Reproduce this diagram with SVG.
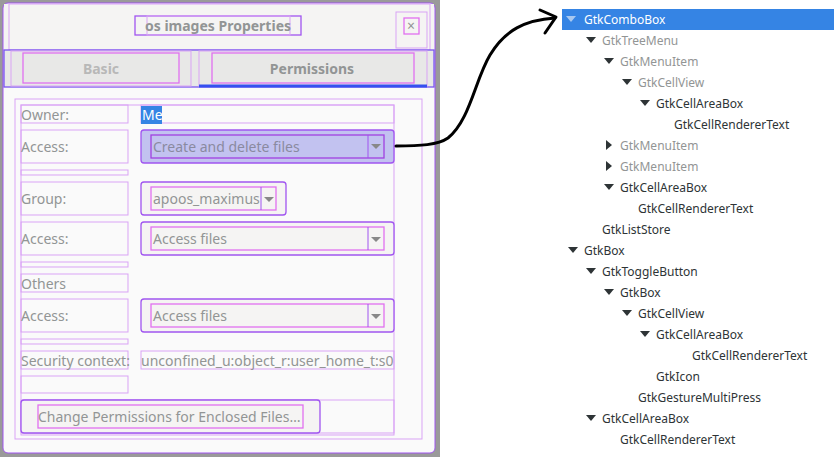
<svg xmlns="http://www.w3.org/2000/svg" width="834" height="457" viewBox="0 0 834 457">
<style>
text{font-family:"Noto Sans","DejaVu Sans",sans-serif;font-size:14px;fill:#929595}
.t{fill:#2e3436;font-size:12px}
.g{fill:#929595;font-size:12px}
.lb{fill:none;stroke:#d9a3f5;stroke-width:1}
.pb{fill:none;stroke:#a055f0;stroke-width:1.3}
.mg{fill:none;stroke:#e070f0;stroke-width:1.3}
.tri{fill:#2e3436}
</style>
<rect width="834" height="457" fill="#ffffff"/>
<rect x="0" y="0" width="440" height="457" fill="#9a9a9a"/>
<g id="dialog">
<rect x="3" y="3" width="432" height="450" rx="5" fill="#fafafa" stroke="#a055f0"/>
<rect x="4" y="4" width="430" height="46" fill="#f5f4f3"/>
<rect x="9" y="4" width="421" height="46" class="lb"/>
<rect x="135" y="16" width="166" height="19" class="pb"/>
<rect x="147" y="16" width="143" height="19" class="lb"/>
<text x="218" y="31" text-anchor="middle" font-weight="bold" font-size="15">os images Properties</text>
<rect x="396" y="12" width="31" height="36" class="lb"/>
<rect x="404" y="18" width="15" height="16" class="mg"/>
<text x="411" y="31" text-anchor="middle" font-size="15" fill="#777">×</text>
<rect x="4" y="50" width="430" height="37" fill="#e8e8e7"/>
<rect x="4" y="50" width="430" height="37" fill="none" stroke="#7a55f0" stroke-width="1.3"/>
<rect x="23" y="53" width="156" height="30" class="mg"/>
<rect x="212" y="53" width="202" height="30" class="mg"/>
<rect x="11" y="51" width="180" height="35" class="lb"/>
<rect x="199" y="51" width="228" height="35" class="lb"/>
<line x1="199" y1="86" x2="427" y2="86" stroke="#3550f0" stroke-width="3"/>
<text x="101" y="74" text-anchor="middle" font-weight="bold" style="fill:#b8b8b8">Basic</text>
<text x="312" y="74" text-anchor="middle" font-weight="bold">Permissions</text>
<rect x="15" y="99" width="407" height="340" class="lb"/>
<rect x="21" y="105" width="373" height="330" class="lb"/>
</g>
<g id="owner">
<rect x="21" y="105" width="107" height="18" class="lb"/>
<text x="21" y="120">Owner:</text>
<rect x="141" y="105" width="253" height="18" class="lb"/>
<rect x="141" y="106" width="21" height="18" fill="#3584e4"/>
<text x="142" y="120" style="fill:#fff">Me</text>
</g>
<g id="access1">
<rect x="21" y="130" width="107" height="33" class="lb"/>
<rect x="21" y="170" width="107" height="5" class="lb"/>
<text x="21" y="152">Access:</text>
<rect x="141" y="130" width="253" height="33" rx="3" fill="#c2c2f0" stroke="#a055f0" stroke-width="1.3"/>
<rect x="151" y="135" width="233" height="23" fill="none" stroke="#a040e0" stroke-width="1.3"/>
<line x1="368" y1="135" x2="368" y2="158" stroke="#a055f0"/>
<path d="M371 144h10l-5 5z" fill="#888"/>
<text x="153" y="152" style="fill:#8a8aa0">Create and delete files</text>
</g>
<g id="group">
<rect x="21" y="182" width="107" height="33" class="lb"/>
<text x="21" y="204">Group:</text>
<rect x="141" y="182" width="145" height="33" rx="3" fill="#f5f4f3" stroke="#a055f0" stroke-width="1.3"/>
<rect x="151" y="187" width="125" height="23" class="mg"/>
<line x1="261" y1="187" x2="261" y2="210" stroke="#a055f0"/>
<path d="M264 197h10l-5 5z" fill="#888"/>
<text x="153" y="204">apoos_maximus</text>
</g>
<g id="access2">
<rect x="21" y="222" width="107" height="33" class="lb"/>
<rect x="21" y="262" width="107" height="5" class="lb"/>
<text x="21" y="244">Access:</text>
<rect x="141" y="222" width="253" height="33" rx="3" fill="#f5f4f3" stroke="#a055f0" stroke-width="1.3"/>
<rect x="151" y="227" width="233" height="23" class="mg"/>
<line x1="368" y1="227" x2="368" y2="250" stroke="#a055f0"/>
<path d="M371 237h10l-5 5z" fill="#888"/>
<text x="153" y="244">Access files</text>
</g>
<g id="others">
<rect x="21" y="274" width="107" height="18" class="lb"/>
<text x="21" y="289">Others</text>
</g>
<g id="access3">
<rect x="21" y="299" width="107" height="33" class="lb"/>
<rect x="21" y="339" width="107" height="5" class="lb"/>
<text x="21" y="321">Access:</text>
<rect x="141" y="299" width="253" height="33" rx="3" fill="#f5f4f3" stroke="#a055f0" stroke-width="1.3"/>
<rect x="151" y="304" width="233" height="23" class="mg"/>
<line x1="368" y1="304" x2="368" y2="327" stroke="#a055f0"/>
<path d="M371 314h10l-5 5z" fill="#888"/>
<text x="153" y="321">Access files</text>
</g>
<g id="security">
<rect x="21" y="351" width="107" height="18" class="lb"/>
<rect x="21" y="376" width="107" height="17" class="lb"/>
<text x="21" y="366">Security context:</text>
<rect x="141" y="351" width="253" height="18" class="lb"/>
<text x="141" y="366">unconfined_u:object_r:user_home_t:s0</text>
</g>
<g id="change">
<rect x="21" y="400" width="373" height="33" class="lb"/>
<rect x="21" y="400" width="299" height="33" rx="3" fill="#f5f4f3" stroke="#a055f0" stroke-width="1.3"/>
<rect x="38" y="405" width="265" height="23" class="mg"/>
<text x="38" y="422">Change Permissions for Enclosed Files…</text>
</g>
<g id="tree">
<rect x="562" y="9" width="272" height="21" fill="#3584e4"/>
<path d="M566 16h10l-5 6z" fill="#a8c8f0"/>
<text x="584" y="24" class="t" style="fill:#fff">GtkComboBox</text>
<path d="M586 37h10l-5 6z" class="tri"/><text x="602" y="45" class="g">GtkTreeMenu</text>
<path d="M604 58h10l-5 6z" class="tri"/><text x="620" y="66" class="g">GtkMenuItem</text>
<path d="M622 79h10l-5 6z" class="tri"/><text x="638" y="87" class="g">GtkCellView</text>
<path d="M640 100h10l-5 6z" class="tri"/><text x="656" y="108" class="t">GtkCellAreaBox</text>
<text x="674" y="129" class="t">GtkCellRendererText</text>
<path d="M606 140v10l6-5z" class="tri"/><text x="620" y="150" class="g">GtkMenuItem</text>
<path d="M606 161v10l6-5z" class="tri"/><text x="620" y="171" class="g">GtkMenuItem</text>
<path d="M604 184h10l-5 6z" class="tri"/><text x="620" y="192" class="t">GtkCellAreaBox</text>
<text x="638" y="213" class="t">GtkCellRendererText</text>
<text x="602" y="234" class="t">GtkListStore</text>
<path d="M568 247h10l-5 6z" class="tri"/><text x="584" y="255" class="t">GtkBox</text>
<path d="M586 268h10l-5 6z" class="tri"/><text x="602" y="276" class="t">GtkToggleButton</text>
<path d="M604 289h10l-5 6z" class="tri"/><text x="620" y="297" class="t">GtkBox</text>
<path d="M622 310h10l-5 6z" class="tri"/><text x="638" y="318" class="t">GtkCellView</text>
<path d="M640 331h10l-5 6z" class="tri"/><text x="656" y="339" class="t">GtkCellAreaBox</text>
<text x="692" y="360" class="t">GtkCellRendererText</text>
<text x="656" y="381" class="t">GtkIcon</text>
<text x="638" y="402" class="t">GtkGestureMultiPress</text>
<path d="M586 415h10l-5 6z" class="tri"/><text x="602" y="423" class="t">GtkCellAreaBox</text>
<text x="620" y="444" class="t">GtkCellRendererText</text>
</g>
<g id="connectors">
<path d="M396 146 C420 146 438 145 448 138 C470 120 475 80 490 55 C505 30 525 20 555 18" fill="none" stroke="#000" stroke-width="3" stroke-linecap="round"/>
<path d="M540 10 L556 17 L545 33" fill="none" stroke="#000" stroke-width="3" stroke-linecap="round" stroke-linejoin="round"/>
</g>
</svg>
